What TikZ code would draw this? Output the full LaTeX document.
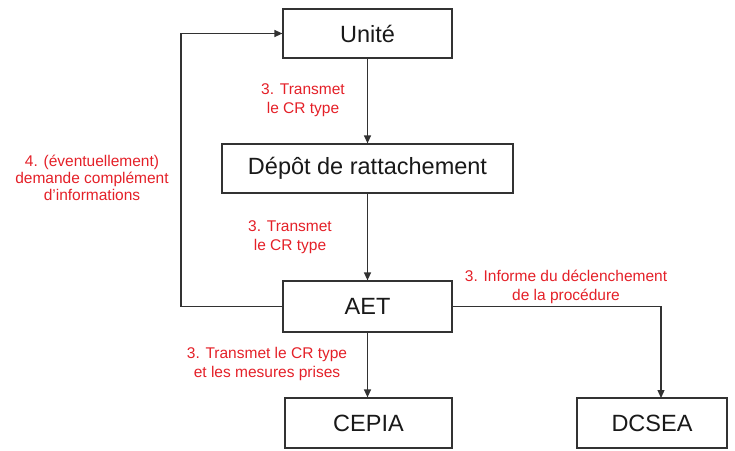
\documentclass[tikz,border=0pt]{standalone}
\usepackage{fontspec}
\setmainfont{Liberation Sans}
\usetikzlibrary{arrows.meta}
\definecolor{lbl}{RGB}{228,32,40}
\definecolor{ln}{RGB}{50,50,50}
\tikzset{
  box/.style={draw=ln, line width=1.2pt, fill=white, inner sep=0pt, minimum height=50pt,
    font=\fontsize{23.5}{27}\selectfont, text=black!90},
  lab/.style={text=lbl, align=center, inner sep=0pt, font=\fontsize{15.5}{19}\selectfont},
  arr/.style={draw=ln, line width=1.2pt, -{Triangle[length=8pt,width=7pt]}},
  con/.style={draw=ln, line width=1.2pt}
}
\begin{document}
\begin{tikzpicture}[x=1pt,y=-1pt]
\useasboundingbox (0,0) rectangle (735,450);
\node[box, minimum width=169pt, minimum height=49pt] (unite) at (367.5,33.5) {Unité};
\node[box, minimum width=291pt, minimum height=49pt] (depot) at (367.5,168.5) {Dépôt de rattachement};
\node[box, minimum width=169pt, minimum height=51pt] (aet) at (367.5,306.5) {AET};
\node[box, minimum width=167pt] (cepia) at (368.5,423) {CEPIA};
\node[box, minimum width=150pt] (dcsea) at (652,423) {DCSEA};
\coordinate (dctop) at (661,398);
\coordinate (lp) at (181,0);
\draw[arr] (unite.south) -- (depot.north);
\draw[arr] (depot.south) -- (aet.north);
\draw[arr] (aet.south) -- (aet.south |- cepia.north);
\draw[arr] (aet.east) -| (dctop);
\draw[arr] (aet.west) -- (aet.west -| lp) |- (unite.west);
\node[lab] (l1) at (303,100.5) {3. Transmet\\le CR type};
\node[lab] (l2) at (290,237.5) {3. Transmet\\le CR type};
\node[lab] (l3) at (566,286.5) {3. Informe du déclenchement\\de la procédure};
\node[lab, font=\fontsize{15.5}{17}\selectfont] (l4) at (92,178) {4. (éventuellement)\\demande complément\\d'informations};
\node[lab] (l5) at (267,364) {3. Transmet le CR type\\et les mesures prises};
\end{tikzpicture}
\end{document}
